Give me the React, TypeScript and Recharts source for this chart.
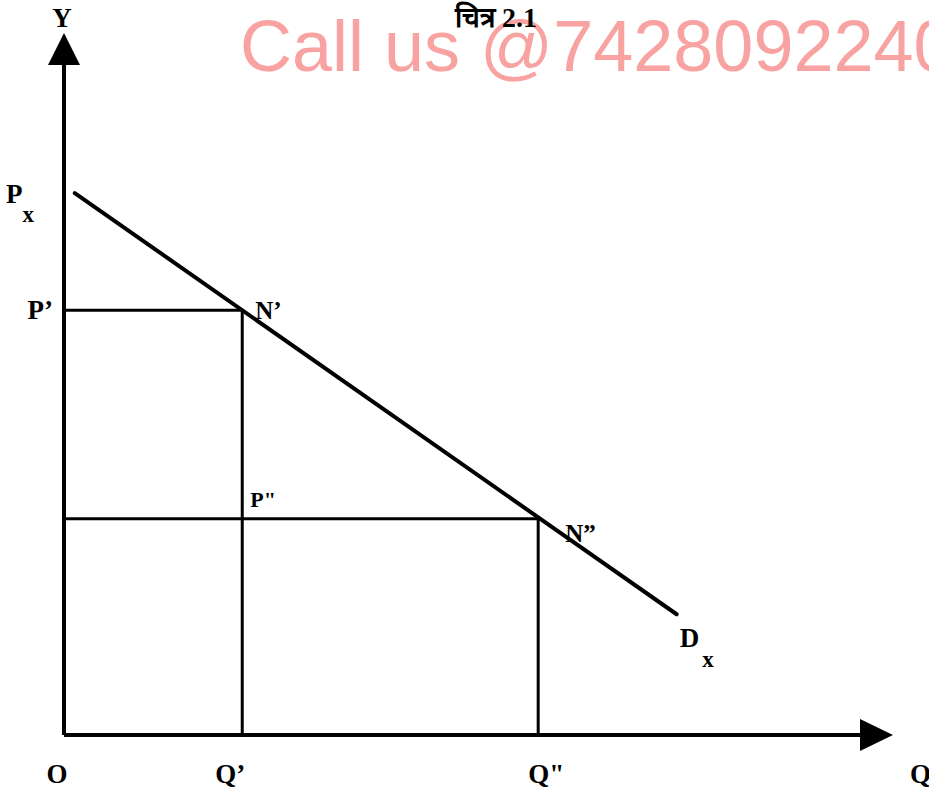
import { LineChart, Line, XAxis, YAxis, ReferenceLine, ReferenceDot } from 'recharts';

// demand curve Dx, in (quantity, price) units of the plot (0..100 on both axes)
const demandCurve = [
  { q: 1.3, p: 77.2 },
  { q: 73.9, p: 17.2 },
];
const quantities = [21.5, 57.2];
const prices = [60.5, 30.8];
const quantityLabels = ['Q’', 'Q"'];
const priceLabels = ['P’', 'P"'];
const pointLabels = ['N’', 'N”'];
const axisTop = 100;
const axisLineEnd = 97;

const serif = '"Liberation Serif", "Times New Roman", serif';

interface TagProps {
  cx?: number;
  cy?: number;
  dx: number;
  dy: number;
  text: string;
  sub?: string;
  size?: number;
  anchor?: 'start' | 'middle' | 'end';
  subDx?: number;
  subDy?: number;
}

function Tag({ cx = 0, cy = 0, dx, dy, text, sub, size = 27, anchor = 'start', subDx = 1, subDy = 19 }: TagProps) {
  return (
    <text
      x={cx + dx}
      y={cy + dy}
      fontFamily={serif}
      fontWeight="bold"
      fontSize={size}
      textAnchor={anchor}
      fill="#000"
    >
      {text}
      {sub && (
        <tspan dx={subDx} dy={subDy} fontSize={size * 0.85}>
          {sub}
        </tspan>
      )}
    </text>
  );
}

function ArrowUp({ cx = 0, cy = 0 }: { cx?: number; cy?: number }) {
  return <path d={`M${cx},${cy} L${cx - 16},${cy + 32} L${cx + 16},${cy + 32} Z`} fill="#000" />;
}

function ArrowRight({ cx = 0, cy = 0 }: { cx?: number; cy?: number }) {
  return <path d={`M${cx},${cy} L${cx - 33},${cy - 16} L${cx - 33},${cy + 16} Z`} fill="#000" />;
}

export default function App() {
  const start = demandCurve[0];
  const end = demandCurve[demandCurve.length - 1];
  return (
    <div style={{ position: 'absolute', left: 0, top: 0, width: 929, height: 792, background: '#fff' }}>
      <svg width={929} height={792} style={{ position: 'absolute', left: 0, top: 0 }}>
        <text
          x={240}
          y={71}
          fontFamily='"Liberation Sans", Arial, sans-serif'
          fontSize={72}
          fill="#F8A2A2"
        >
          Call us @7428092240
        </text>
        <text x={455} y={27} fontFamily={serif} fontWeight="bold" fontSize={28} fill="#000">
          चित्र 2.1
        </text>
      </svg>
      <div style={{ position: 'absolute', left: 0, top: 0 }}>
        <LineChart width={929} height={792} margin={{ top: 33, right: 36, bottom: 57, left: 64 }}>
          <XAxis type="number" dataKey="q" domain={[0, axisTop]} hide allowDataOverflow />
          <YAxis type="number" dataKey="p" domain={[0, axisTop]} hide allowDataOverflow />

          {/* axes */}
          <ReferenceLine segment={[{ x: 0, y: 0 }, { x: 0, y: axisLineEnd }]} stroke="#000" strokeWidth={4} />
          <ReferenceLine segment={[{ x: 0, y: 0 }, { x: axisLineEnd, y: 0 }]} stroke="#000" strokeWidth={4} />

          {/* guides to the two points on the curve */}
          {quantities.map((q, i) => (
            <ReferenceLine
              key={`h${i}`}
              segment={[{ x: 0, y: prices[i] }, { x: q, y: prices[i] }]}
              stroke="#000"
              strokeWidth={3}
            />
          ))}
          {quantities.map((q, i) => (
            <ReferenceLine
              key={`v${i}`}
              segment={[{ x: q, y: prices[i] }, { x: q, y: 0 }]}
              stroke="#000"
              strokeWidth={3}
            />
          ))}

          <Line
            data={demandCurve}
            dataKey="p"
            stroke="#000"
            strokeWidth={4}
            strokeLinecap="round"
            dot={false}
            activeDot={false}
            isAnimationActive={false}
          />

          <ReferenceDot x={0} y={axisTop} r={0} shape={(p: any) => <ArrowUp cx={p.cx} cy={p.cy} />} />
          <ReferenceDot x={axisTop} y={0} r={0} shape={(p: any) => <ArrowRight cx={p.cx} cy={p.cy} />} />

          {/* labels */}
          <ReferenceDot x={0} y={axisTop} r={0} shape={(p: any) => <Tag cx={p.cx} cy={p.cy} dx={-2} dy={-6} text="Y" size={27} anchor="middle" />} />
          <ReferenceDot x={0} y={0} r={0} shape={(p: any) => <Tag cx={p.cx} cy={p.cy} dx={-7} dy={48} text="O" anchor="middle" />} />
          <ReferenceDot x={axisTop} y={0} r={0} shape={(p: any) => <Tag cx={p.cx} cy={p.cy} dx={17} dy={48} text="Q" />} />
          <ReferenceDot
            x={0}
            y={start.p}
            r={0}
            shape={(p: any) => <Tag cx={p.cx} cy={p.cy} dx={-58} dy={10} text="P" sub="x" subDx={0} subDy={19} />}
          />
          <ReferenceDot
            x={end.q}
            y={end.p}
            r={0}
            shape={(p: any) => <Tag cx={p.cx} cy={p.cy} dx={3} dy={33} text="D" sub="x" subDx={3} subDy={20} />}
          />
          <ReferenceDot x={0} y={prices[0]} r={0} shape={(p: any) => <Tag cx={p.cx} cy={p.cy} dx={-11} dy={9} text={priceLabels[0]} anchor="end" />} />
          <ReferenceDot x={quantities[0]} y={prices[1]} r={0} shape={(p: any) => <Tag cx={p.cx} cy={p.cy} dx={8} dy={-12} text={priceLabels[1]} size={22} />} />
          <ReferenceDot x={quantities[0]} y={prices[0]} r={0} shape={(p: any) => <Tag cx={p.cx} cy={p.cy} dx={13} dy={9} text={pointLabels[0]} size={25} />} />
          <ReferenceDot x={quantities[1]} y={prices[1]} r={0} shape={(p: any) => <Tag cx={p.cx} cy={p.cy} dx={27} dy={23} text={pointLabels[1]} size={25} />} />
          <ReferenceDot x={quantities[0]} y={0} r={0} shape={(p: any) => <Tag cx={p.cx} cy={p.cy} dx={-12} dy={48} text={quantityLabels[0]} anchor="middle" />} />
          <ReferenceDot x={quantities[1]} y={0} r={0} shape={(p: any) => <Tag cx={p.cx} cy={p.cy} dx={8} dy={48} text={quantityLabels[1]} anchor="middle" />} />
        </LineChart>
      </div>
    </div>
  );
}
